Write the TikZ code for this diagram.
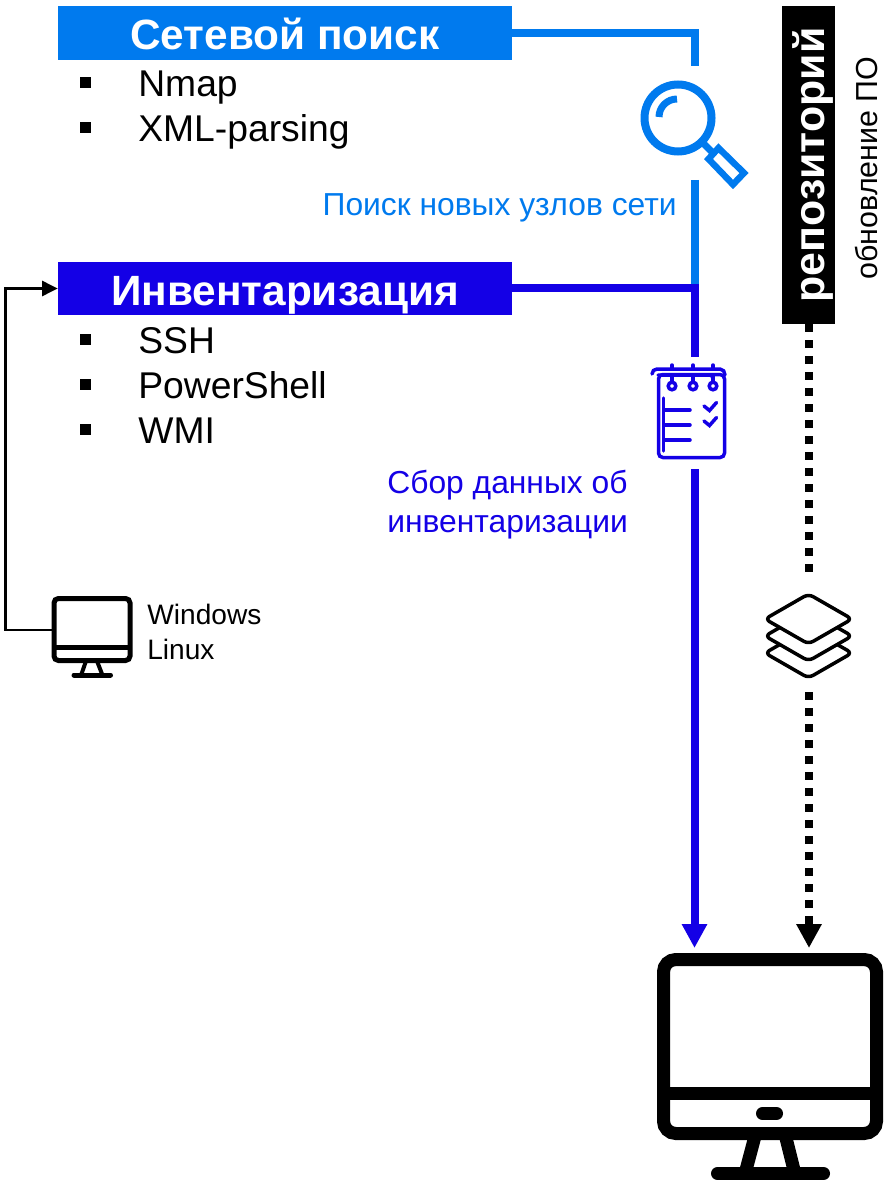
\documentclass[tikz,border=0pt]{standalone}
\usepackage{fontspec}
\setmainfont{Liberation Sans}
\usetikzlibrary{arrows.meta}
\definecolor{netblue}{RGB}{0,122,238}
\definecolor{invblue}{RGB}{20,0,230}
\def\px{0.02cm}
\tikzset{
  headbox/.style={fill=#1,text=white,minimum width=454*\px,inner sep=0pt,text height=43.5*\px,text depth=10*\px,font=\fontsize{24.1}{30}\selectfont\bfseries},
  itemtext/.style={anchor=base west,inner sep=0pt,font=\fontsize{21.2}{25}\selectfont},
  itembullet/.style={fill=black,minimum size=11*\px,inner sep=0pt},
  notetext/.style={inner sep=0pt,align=left,font=\fontsize{18.1}{21.8}\selectfont},
  pipe/.style={line width=8*\px},
  dotline/.style={line width=8*\px,dash pattern=on 8*\px off 8*\px},
  bigtip/.style={-{Triangle[length=24*\px,width=24*\px]}},
}
\begin{document}
\begin{tikzpicture}[x=\px,y=-\px]
    \useasboundingbox(0,0)rectangle(884,1182);
    % boxes
    \node[headbox=netblue](netsearch)at(285,33){Сетевой поиск};
    \node[headbox=invblue](inventory)at(285,288.5){Инвентаризация};
    \foreach \name/\ypos/\txt in {nmap/84/Nmap,xml/129/XML-parsing,ssh/340/SSH,pshell/385/PowerShell,wmi/430/WMI}{
      \node[itembullet](b\name)at(85.5,\ypos-1){};
      \node[itemtext](\name)at(138,\ypos+13){\txt};
    }
    \node[notetext,text=netblue,anchor=east](netnote)at(677,208){Поиск новых узлов сети};
    \node[notetext,text=invblue,anchor=west](invnote)at(387,504.5){Сбор данных об\\инвентаризации};
    % repository
    \node[fill=black,text=white,rotate=90,minimum width=318*\px,inner sep=0pt,text height=42*\px,text depth=11*\px,font=\fontsize{24.4}{28}\selectfont\bfseries](repo)at(808.5,165){репозиторий};
    \node[rotate=90,anchor=base,inner sep=0pt,font=\fontsize{17.3}{21}\selectfont](update)at(877,168){обновление ПО};
    % search icon
    \node[circle,draw=netblue,line width=8*\px,minimum size=67*\px,inner sep=0pt](searchicon)at(678,118){};
    \draw[netblue,line width=7*\px](659,117)arc(180:270:18);
    \draw[netblue,line width=7*\px](702,142)--(712,152);
    \draw[netblue,line width=6.5*\px](718.5,148)--(744,173)--(733,184.5)--(708.5,159)--cycle;
    % list icon
    \node[draw=invblue,line width=3.5*\px,rounded corners=2.5pt,minimum width=66*\px,minimum height=83*\px,inner sep=0pt](listicon)at(691.5,416){};
    \begin{scope}[draw=invblue,line width=3.5*\px,line cap=round]
    \draw(652,374)to[out=90,in=180](657,369)--(720,369)to[out=0,in=90](725,375);
    \draw(658,375)--(710,375)to[out=0,in=90](713,379);
    \foreach \xpos in {672,693,713}{
      \draw(\xpos,365)--(\xpos,368);
      \draw(\xpos,376)--(\xpos,382);
      \draw(\xpos,386)circle(3.8);
    }
    \draw(663.5,398)--(663.5,451);
    \foreach \ypos in {410,425,440}{\draw(664,\ypos)--(690,\ypos);}
    \foreach \ypos in {0,15}{\draw(704,406+\ypos)--(709.5,410.5+\ypos)--(716.5,402.5+\ypos);}
    \end{scope}
    % stack icon
    \begin{scope}[line width=3.5*\px,rounded corners=3pt]
    \filldraw[fill=white](765,653)--(808.5,628)--(852,653)--(808.5,678)--cycle;
    \filldraw[fill=white](765,636)--(808.5,611)--(852,636)--(808.5,661)--cycle;
    \filldraw[fill=white](765,619)--(808.5,594)--(852,619)--(808.5,644)--cycle;
    \end{scope}
    % small computer
    \node[draw,line width=5*\px,rounded corners=2.5pt,minimum width=76*\px,minimum height=62*\px,inner sep=0pt](smallpc)at(92,629.5){};
    \draw[line width=5*\px](54,647)--(130,647);
    \draw[line width=4*\px](86,661)--(81.5,674);
    \draw[line width=4*\px](97,661)--(102,674);
    \draw[line width=5*\px,line cap=round](74,675)--(110.5,675);
    \node[notetext,anchor=west,font=\fontsize{16}{20}\selectfont](pcnames)at(147,632){Windows\\Linux};
    % big computer
    \node[draw,line width=13*\px,rounded corners=7pt,minimum width=213*\px,minimum height=174*\px,inner sep=0pt](bigpc)at(770,1046.5){};
    \draw[line width=13*\px](664,1093.5)--(876,1093.5);
    \draw[line width=13*\px,line cap=round](762.5,1113.5)--(776.5,1113.5);
    \draw[line width=13*\px](754.5,1138)--(746,1170);
    \draw[line width=13*\px](786,1138)--(794,1170);
    \draw[line width=13*\px,line cap=round](717.5,1173.5)--(823.5,1173.5);
    % connectors
    \coordinate(searchtop)at(694.5,66);
    \coordinate(searchlow)at(694.5,180);
    \coordinate(invjoin)at(694.5,289);
    \coordinate(listtop)at(694.5,357);
    \coordinate(listlow)at(694.5,469);
    \coordinate(bigtipA)at(694.5,948);
    \coordinate(bigtipB)at(809,948);
    \coordinate(stacktop)at(809,572);
    \coordinate(stacklow)at(809,692);
    \coordinate(pcleft)at(5.5,630);
    \draw[pipe,netblue](netsearch.east)-|(searchtop);
    \draw[pipe,netblue](searchlow)--(invjoin);
    \draw[pipe,invblue](inventory.east)-|(listtop);
    \draw[pipe,invblue,bigtip](listlow)--(bigtipA);
    \draw[dotline](repo.west-|stacktop)--(stacktop);
    \draw[dotline,bigtip](stacklow)--(bigtipB);
    \draw[line width=2.5*\px,-{Triangle[length=15.5*\px,width=15*\px]}](smallpc.west|-pcleft)--(pcleft)|-(inventory.west);
\end{tikzpicture}
\end{document}
